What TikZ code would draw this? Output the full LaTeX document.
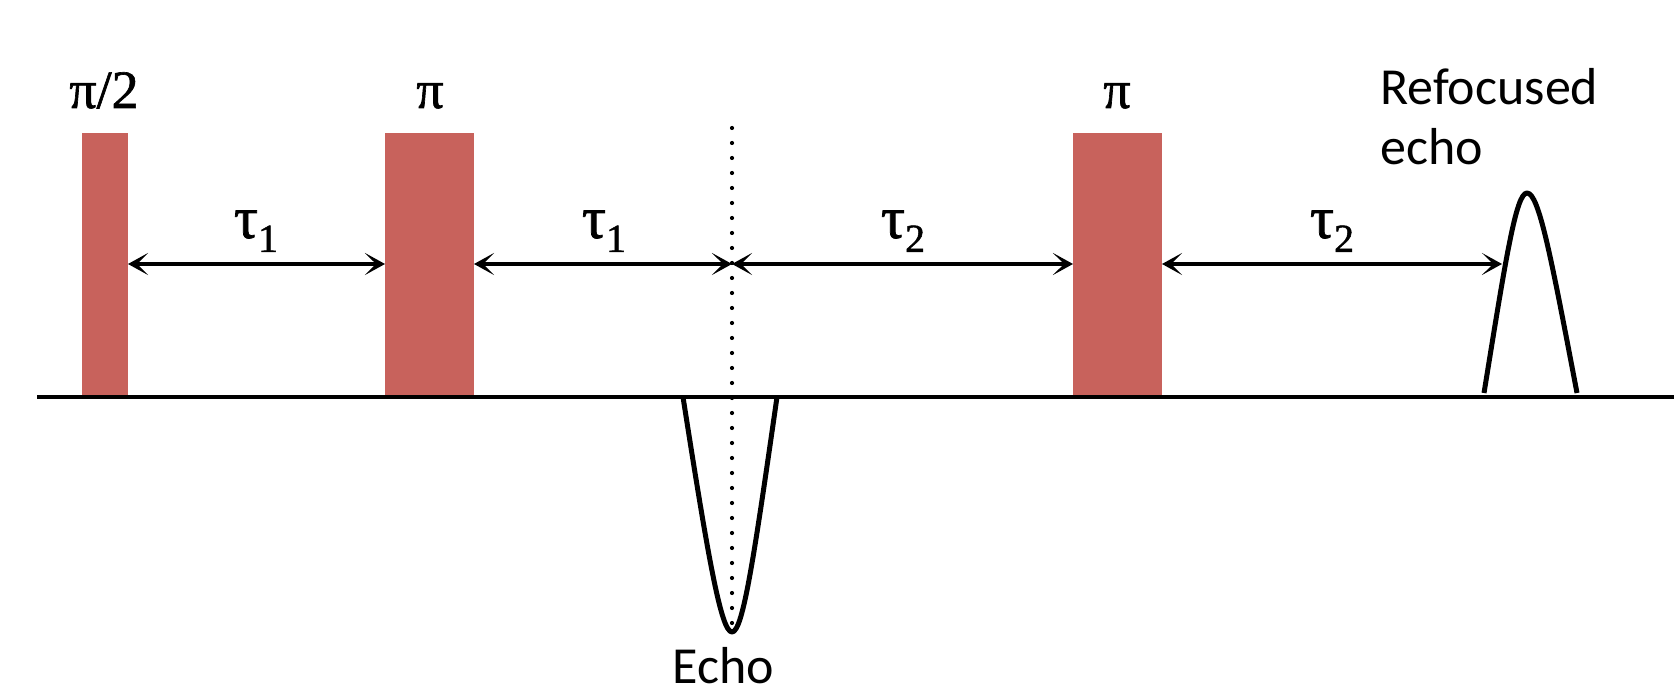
\documentclass[tikz,border=0pt]{standalone}
\usepackage{fontspec}
\setmainfont{Carlito}
\newfontfamily\grkfont[FakeBold=1.2]{Liberation Serif}
\usetikzlibrary{arrows.meta}
\definecolor{pulsered}{RGB}{200,98,92}
\begin{document}
\begin{tikzpicture}[x=0.5pt,y=-0.5pt,
  pulse/.style={fill=pulsered, draw=none, inner sep=0pt, outer sep=0pt, anchor=south west, minimum height=132pt},
  dimarrow/.style={line width=1.6pt, {Stealth[length=10pt,width=11pt,inset=5.5pt]}-{Stealth[length=10pt,width=11pt,inset=5.5pt]}},
  echoline/.style={line width=2.5pt, line join=round},
  greeklabel/.style={inner sep=0pt, anchor=base},
  textlabel/.style={font=\fontsize{26}{30}\selectfont, inner sep=0pt}
]
\useasboundingbox (0,0) rectangle (1674,694);
% pulses
\node[pulse, minimum width=23pt] (p1) at (82,397) {};
\node[pulse, minimum width=44.5pt] (p2) at (385,397) {};
\node[pulse, minimum width=44.5pt] (p3) at (1073,397) {};
% baseline
\coordinate (b0) at (37,397);
\coordinate (b1) at (1674,397);
\draw[line width=1.8pt] (b0) -- (b1);
% dotted echo time line
\coordinate (dtop) at (732,128);
\coordinate (dbot) at (732,632);
\draw[line width=2.1pt, dash pattern=on 0pt off 7.5pt, line cap=round] (dtop) -- (dbot);
% echo (negative)
\coordinate (e0) at (683,397);
\coordinate (em) at (732,632);
\coordinate (e2) at (777,397);
\draw[echoline] (e0) .. controls (708,557) and (721,632) .. (em)
  .. controls (743,632) and (754,557) .. (e2);
% refocused echo (positive)
\coordinate (r0) at (1484,393);
\coordinate (rm) at (1527,193);
\coordinate (r2) at (1577,393);
\draw[echoline] (r0) .. controls (1506,257) and (1516,193) .. (rm)
  .. controls (1539,193) and (1551,257) .. (r2);
% arrows
\coordinate (a) at (732,264);
\coordinate (rt) at (1502,264);
\draw[dimarrow] (p1.east |- a) -- (p2.west |- a);
\draw[dimarrow] (p2.east |- a) -- (a);
\draw[dimarrow] (a) -- (p3.west |- a);
\draw[dimarrow] (p3.east |- a) -- (rt);
% labels
\newcommand{\grk}[1]{{\grkfont\fontsize{27}{28}\selectfont #1}}
\newcommand{\tausub}[1]{{\grkfont\fontsize{30}{30}\selectfont τ\raisebox{-7pt}{\fontsize{20}{20}\selectfont #1}}}
\node[greeklabel] (l1) at (104,108) {\grk{π/2}};
\node[greeklabel] (l2) at (430,108) {\grk{π}};
\node[greeklabel] (l3) at (1117,108) {\grk{π}};
\node[greeklabel] (t1) at (256,238) {\tausub{1}};
\node[greeklabel] (t2) at (604,238) {\tausub{1}};
\node[greeklabel] (t3) at (903,238) {\tausub{2}};
\node[greeklabel] (t4) at (1332,238) {\tausub{2}};
\node[textlabel, anchor=base] (echo) at (723,683) {Echo};
\node[textlabel, anchor=base west, align=left] (refoc) at (1380,165) {Refocused\\echo};
\end{tikzpicture}
\end{document}
